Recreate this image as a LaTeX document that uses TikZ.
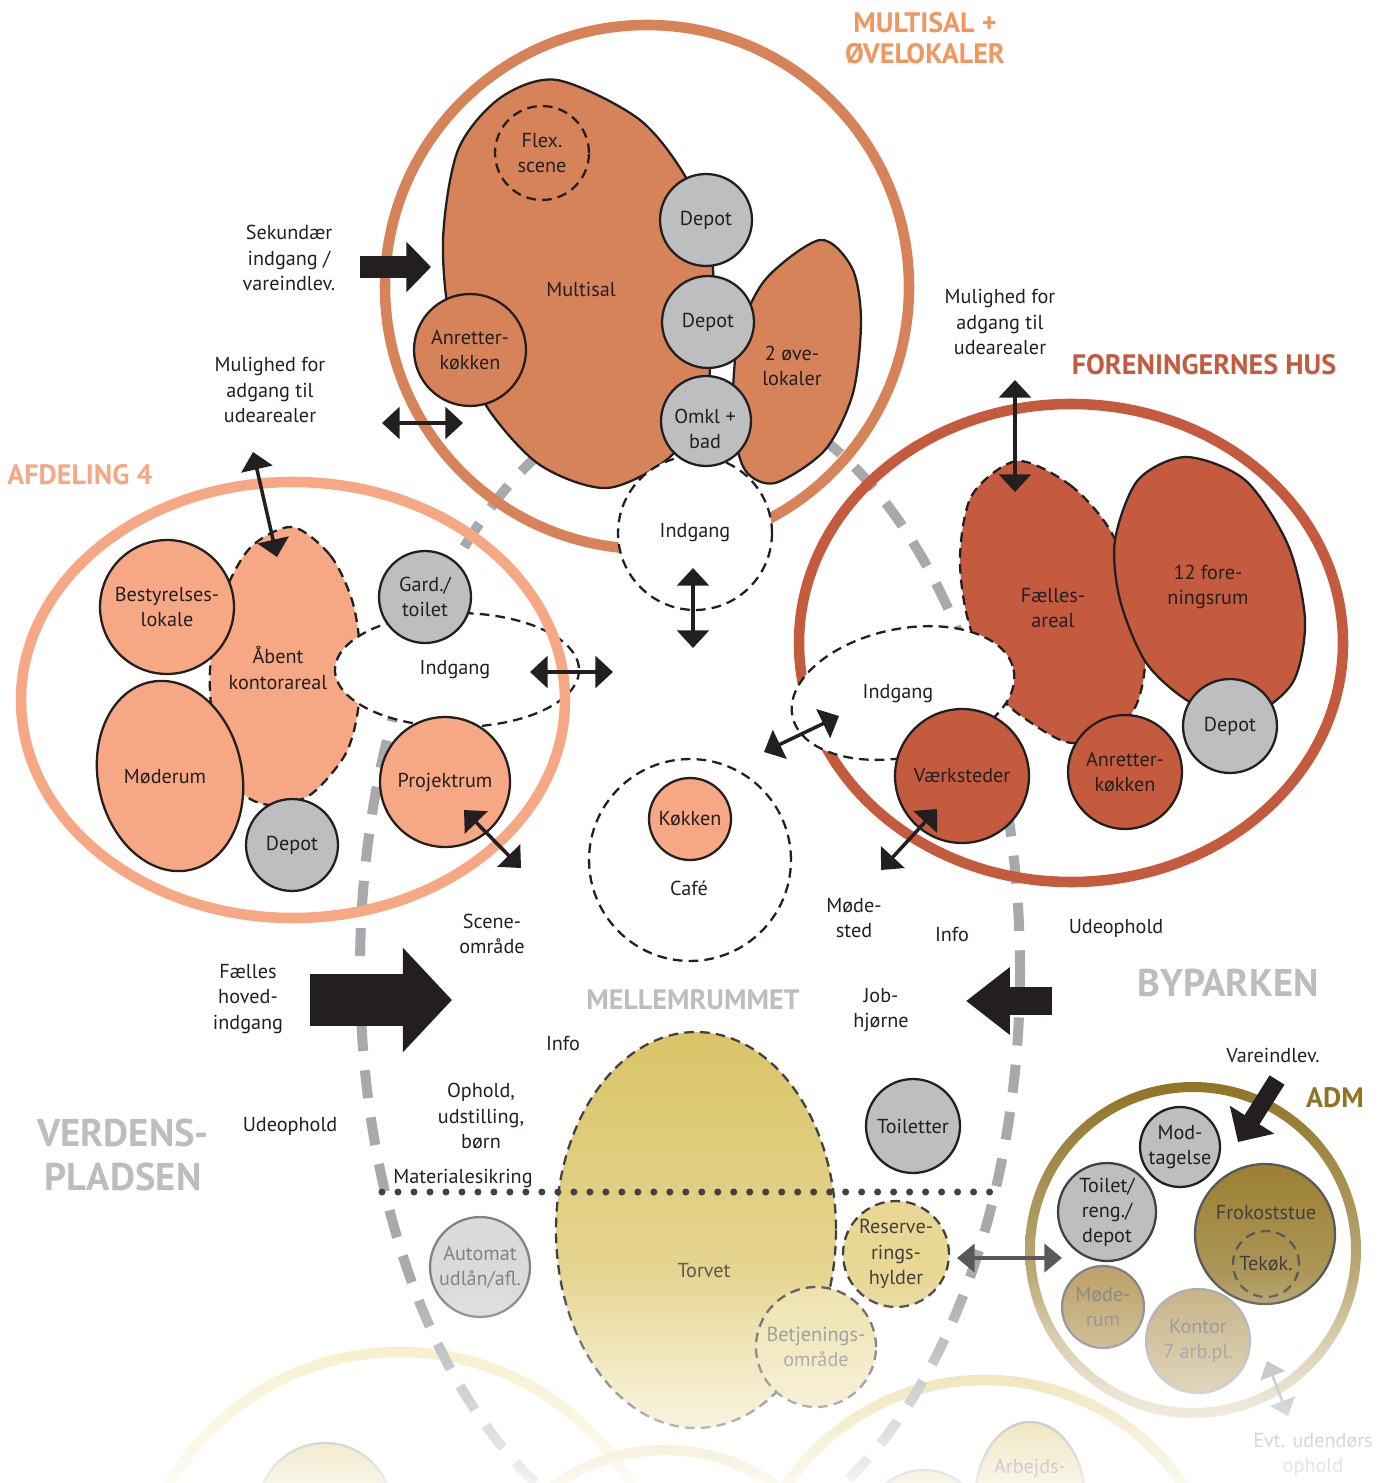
\documentclass[tikz,border=0pt]{standalone}
\usepackage{fontspec}
\setmainfont{PT Sans}
\usetikzlibrary{arrows.meta,shapes.geometric,fadings}
\definecolor{MultiClr}{RGB}{214,131,90}
\definecolor{MultiTtl}{RGB}{240,150,95}
\definecolor{AfdClr}{RGB}{246,168,132}
\definecolor{ForClr}{RGB}{196,91,63}
\definecolor{RoomGray}{RGB}{189,190,192}
\definecolor{LineClr}{RGB}{35,31,32}
\definecolor{PathGray}{RGB}{167,169,172}
\definecolor{TtlGray}{RGB}{188,189,191}
\definecolor{TorvTop}{RGB}{218,195,104}
\definecolor{TorvBot}{RGB}{238,225,170}
\definecolor{ResClr}{RGB}{232,216,148}
\definecolor{AdmClr}{RGB}{143,116,37}
\definecolor{AdmPale}{RGB}{222,210,180}
\definecolor{FrokTop}{RGB}{155,128,50}
\definecolor{FrokBot}{RGB}{178,157,98}
\definecolor{MoedeClr}{RGB}{190,164,108}
\definecolor{KontorClr}{RGB}{196,176,128}
\definecolor{DotClr}{RGB}{65,64,66}
\definecolor{MidGray}{RGB}{88,89,91}
\definecolor{SoftGray}{RGB}{128,130,133}
\definecolor{AutoFill}{RGB}{217,218,219}
\definecolor{ParkA}{RGB}{245,235,185}
\definecolor{ParkB}{RGB}{232,214,145}

\newcommand\roomfont{\fontsize{11.5}{14.3}\selectfont}
\newcommand\ttlfont{\fontsize{16}{18}\selectfont\bfseries}
\newcommand\bigttlfont{\fontsize{22}{25}\selectfont\bfseries}

\tikzfading[name=fadebottom, top color=transparent!100, bottom color=transparent!15]

\begin{document}
\begin{tikzpicture}[x=0.02cm, y=-0.02cm,
  room/.style={circle, draw=LineClr, line width=1.3pt, inner sep=0pt, minimum size=#1*0.04cm, align=center, font=\roomfont, text=LineClr},
  blob/.style={draw=LineClr, line width=1.3pt},
  dashbord/.style={dash pattern=on 5.5pt off 3.5pt},
  lbl/.style={align=center, font=\roomfont, text=LineClr, inner sep=0pt},
  ttl/.style={align=center, font=\ttlfont, inner sep=0pt},
  bigttl/.style={align=center, font=\bigttlfont, inner sep=0pt},
  dbl/.style={draw=LineClr, line width=2pt, >={Triangle[length=10pt,width=18pt]}, <->},
  hall/.style={line width=6pt}]
\useasboundingbox (0,0) rectangle (1393,1483);

\draw[ParkA, hall] (400,1620) circle (268);
\draw[ParkB, hall] (985,1620) circle (240);
\draw[ParkB, hall] (665,1640) circle (190);
\filldraw[fill=TorvTop, draw=SoftGray, line width=1.3pt] (325,1510) circle (67);
\filldraw[fill=TorvTop, draw=SoftGray, line width=1.3pt] (924,1530) circle (60);
\filldraw[fill=TorvTop, draw=SoftGray, line width=1.3pt] (1030,1500) ellipse (55 and 78);
\node[lbl] (arbejds) at (1030,1468) {Arbejds-};

\draw[PathGray, line width=5.7pt, dash pattern=on 16pt off 11pt] (690,970) ellipse (330 and 580);

\draw[MultiClr, hall] (647,287) circle (262);
\filldraw[blob, fill=MultiClr] plot[smooth cycle] coordinates {(557,80) (640,120) (690,185) (712,260) (712,330) (705,400) (670,457) (607,488) (540,465) (487,407) (452,330) (443,240) (458,150) (500,98)};
\filldraw[blob, fill=MultiClr] plot[smooth cycle] coordinates {(820,240) (852,268) (861,320) (853,393) (825,450) (775,483) (745,470) (733,420) (738,340) (765,280)};
\node[room=77, fill=white, dashbord] (msind) at (695,533) {Indgang};
\node[room=47, dashbord] (flex) at (542,153) {Flex.\\scene};
\node[room=46, fill=RoomGray] (msdepA) at (706,220) {Depot};
\node[room=46, fill=RoomGray] (msdepB) at (708,322) {Depot};
\node[room=45, fill=RoomGray] (omkl) at (706,421) {};
\node[lbl] (omkltxt) at (705,429) {Omkl +\\bad};
\node[room=56, fill=MultiClr] (msanr) at (470,350) {Anretter-\\køkken};
\node[lbl] (multisal) at (581,289) {Multisal};
\node[lbl] (ove) at (792,366) {2 øve-\\lokaler};

\filldraw[blob, fill=AfdClr, dashbord] plot[smooth cycle] coordinates {(292,527) (330,555) (352,600) (360,650) (358,710) (345,755) (310,795) (270,805) (240,790) (215,730) (210,670) (222,600) (250,548)};
\node[lbl] (aaben) at (278,668) {Åbent\\kontorareal};
\node[room=67, fill=AfdClr] (bestyr) at (167,607) {Bestyrelses-\\lokale};
\filldraw[blob, fill=AfdClr, rotate around={12:(170,776)}] (170,776) ellipse (72 and 96);
\node[lbl] (moderum) at (165,777) {Møderum};
\node[room=46, fill=RoomGray] (afddep) at (292,845) {Depot};
\filldraw[blob, fill=white, dashbord] (457,670) ellipse (122 and 57);
\node[lbl] (afdind) at (455,670) {Indgang};
\node[room=46, fill=RoomGray] (gard) at (425,597) {Gard./\\toilet};
\node[room=65, fill=AfdClr] (projekt) at (445,782) {Projektrum};
\draw[AfdClr, hall] (293,700) ellipse (272 and 218);

\draw[ForClr, hall] (1071,643) ellipse (272 and 239);
\filldraw[blob, fill=ForClr, dashbord] plot[smooth cycle] coordinates {(1017,461) (1070,485) (1110,530) (1138,600) (1145,665) (1130,715) (1075,743) (1030,722) (995,690) (968,620) (960,557) (972,495)};
\filldraw[blob, fill=ForClr] plot[smooth cycle] coordinates {(1186,457) (1245,480) (1288,545) (1305,620) (1293,682) (1250,715) (1195,705) (1147,664) (1120,600) (1115,540) (1138,480)};
\filldraw[blob, fill=white, dashbord, rotate around={12:(903,693)}] (903,693) ellipse (113 and 64);
\node[lbl] (forind) at (898,694) {Indgang};
\node[lbl] (faelles) at (1053,608) {Fælles-\\areal};
\node[lbl] (forrum) at (1208,587) {12 fore-\\ningsrum};
\node[room=47, fill=RoomGray] (fordep) at (1230,726) {Depot};
\node[room=57, fill=ForClr] (foranr) at (1125,772) {Anretter-\\køkken};
\node[room=67, fill=ForClr] (vaerk) at (962,776) {Værksteder};

\node[room=101, dashbord] (cafe) at (690,860) {};
\node[room=41, fill=AfdClr] (kokken) at (690,819) {Køkken};
\node[lbl] (cafetxt) at (689,888) {Café};

\shade[top color=TorvTop, bottom color=TorvBot] (696,1230) ellipse (140 and 198);
\draw[DotClr, line width=1.3pt, dashbord] (696,1230) ellipse (140 and 198);
\node[lbl, text=MidGray] (torvet) at (704,1271) {Torvet};
\node[room=60, fill=TorvBot, draw=MidGray, dashbord, text=SoftGray] (betj) at (816,1347) {Betjenings-\\område};
\node[room=53, fill=ResClr, draw=DotClr, dashbord, text=DotClr] (reserve) at (896,1254) {Reserve-\\rings-\\hylder};
\node[room=47, fill=RoomGray] (toiletter) at (913,1126) {Toiletter};
\node[room=50, fill=AutoFill, draw=SoftGray, text=SoftGray] (automat) at (480,1267) {Automat\\udlån/afl.};
\coordinate (matA) at (382,1192);
\coordinate (matB) at (1005,1192);
\draw[DotClr, line width=4pt, line cap=round, dash pattern=on 0pt off 9.1pt] (matA) -- (matB);

\shade[top color=AdmClr, bottom color=AdmPale, even odd rule] (1193,1250) circle (168) (1193,1250) circle (158);
\node[room=40, fill=RoomGray] (modtag) at (1180,1147) {Mod-\\tagelse};
\node[room=49, fill=RoomGray, draw=DotClr] (admtoil) at (1107,1212) {Toilet/\\reng./\\depot};
\node[room=70, top color=FrokTop, bottom color=FrokBot, draw=MidGray] (frokost) at (1265,1234) {};
\node[lbl, text=DotClr] (froktxt) at (1266,1213) {Frokoststue};
\node[room=33, draw=MidGray, dashbord, text=DotClr] (tekok) at (1266,1264) {Tekøk.};
\node[room=41, fill=MoedeClr, draw=SoftGray, text=SoftGray] (admmoede) at (1103,1307) {Møde-\\rum};
\node[room=52, fill=KontorClr, draw=PathGray, text=SoftGray] (kontor) at (1198,1341) {Kontor\\7 arb.pl.};

\coordinate (sekA) at (360,267);
\coordinate (sekB) at (431,267);
\draw[LineClr, line width=12.5pt, -{Triangle[length=14pt,width=28pt]}] (sekA) -- (sekB);
\coordinate (hovA) at (310,1000);
\coordinate (hovB) at (452,1000);
\draw[LineClr, line width=29.5pt, -{Triangle[length=28pt,width=58pt]}] (hovA) -- (hovB);
\coordinate (parkA) at (1052,1001);
\coordinate (parkB) at (966,1001);
\draw[LineClr, line width=16.4pt, -{Triangle[length=25pt,width=37pt]}] (parkA) -- (parkB);
\coordinate (vareA) at (1277,1080);
\coordinate (vareB) at (1238,1142);
\draw[LineClr, line width=10pt, -{Triangle[length=15pt,width=29pt]}] (vareA) -- (vareB);

\coordinate (msudeA) at (382,423);
\coordinate (msudeB) at (463,423);
\draw[dbl] (msudeA) -- (msudeB);
\coordinate (msindA) at (693,568);
\coordinate (msindB) at (693,648);
\draw[dbl] (msindA) -- (msindB);
\coordinate (afdudeA) at (253,452);
\coordinate (afdudeB) at (277,557);
\draw[dbl] (afdudeA) -- (afdudeB);
\coordinate (afdindA) at (530,672);
\coordinate (afdindB) at (613,672);
\draw[dbl] (afdindA) -- (afdindB);
\coordinate (projA) at (464,810);
\coordinate (projB) at (521,868);
\draw[dbl] (projA) -- (projB);
\coordinate (forudeA) at (1015,380);
\coordinate (forudeB) at (1015,492);
\draw[dbl] (forudeA) -- (forudeB);
\coordinate (forindA) at (764,752);
\coordinate (forindB) at (839,716);
\draw[dbl] (forindA) -- (forindB);
\coordinate (vaerkA) at (937,809);
\coordinate (vaerkB) at (881,870);
\draw[dbl] (vaerkA) -- (vaerkB);
\coordinate (resA) at (957,1258);
\coordinate (resB) at (1062,1258);
\draw[dbl, draw=MidGray, >={Triangle[length=10pt,width=16pt]}] (resA) -- (resB);
\coordinate (evtA) at (1267,1361);
\coordinate (evtB) at (1288,1416);
\draw[dbl, draw=PathGray, line width=1.5pt, >={Triangle[length=9pt,width=15pt]}] (evtA) -- (evtB);

\node[ttl, text=MultiTtl] (multittl) at (925,38) {MULTISAL +\\ØVELOKALER};
\node[ttl, text=ForClr] (forttl) at (1204,365) {FORENINGERNES HUS};
\node[ttl, text=AfdClr] (afdttl) at (80,475) {AFDELING 4};
\node[ttl, text=TtlGray] (mellemttl) at (693,1000) {MELLEMRUMMET};
\node[ttl, text=AdmClr] (admttl) at (1335,1098) {ADM};
\node[bigttl, text=TtlGray] (byttl) at (1228,983) {BYPARKEN};
\node[bigttl, text=TtlGray] (verdttl) at (123,1155) {VERDENS-\\PLADSEN};

\node[lbl] (sekund) at (289,258) {Sekundær\\indgang /\\vareindlev.};
\node[lbl] (mulL) at (270,390) {Mulighed for\\adgang til\\udearealer};
\node[lbl] (mulR) at (1000,322) {Mulighed for\\adgang til\\udearealer};
\node[lbl] (scene) at (492,934) {Scene-\\område};
\node[lbl] (moedested) at (854,918) {Møde-\\sted};
\node[lbl] (infoR) at (952,934) {Info};
\node[lbl] (udeR) at (1116,928) {Udeophold};
\node[lbl] (job) at (881,1010) {Job-\\hjørne};
\node[lbl] (hoved) at (248,999) {Fælles\\hoved-\\indgang};
\node[lbl] (infoL) at (563,1043) {Info};
\node[lbl] (ophold) at (481,1116) {Ophold,\\udstilling,\\børn};
\node[lbl] (udeL) at (290,1126) {Udeophold};
\node[lbl] (mat) at (463,1178) {Materialesikring};
\node[lbl] (vare) at (1273,1055) {Vareindlev.};
\node[lbl, text=SoftGray] (evt) at (1313,1455) {Evt. udendørs\\ophold};

\fill[white, path fading=fadebottom] (0,1275) rectangle (1393,1483);

\end{tikzpicture}
\end{document}
